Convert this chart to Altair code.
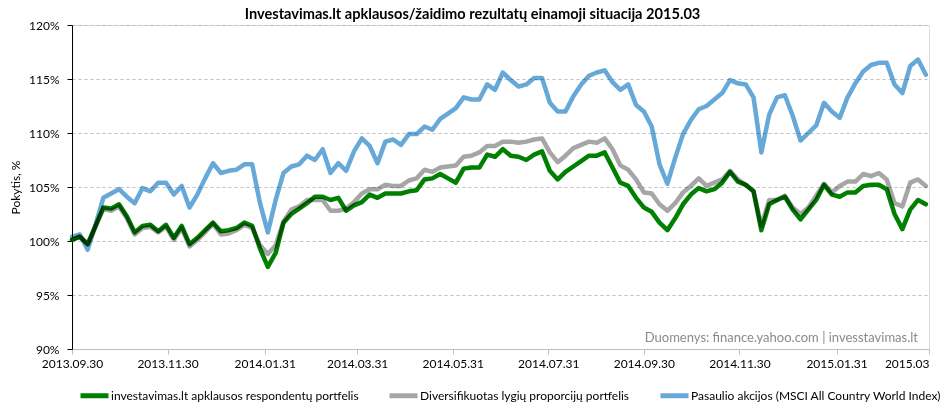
import altair as alt
import pandas as pd

# sampling dates (every 5 calendar days from the start of the game)
dates = [d.strftime("%Y-%m-%d") for d in pd.date_range("2013-09-30", periods=110, freq="5D")]

names = [
    "investavimas.lt apklausos respondentų portfelis",
    "Diversifikuotas lygių proporcijų portfelis",
    "Pasaulio akcijos (MSCI All Country World Index)",
]
colors = ["#008000", "#A6A6A6", "#66A9D9"]

green = [
    100.1, 100.4, 99.7, 101.4, 103.1, 103.0, 103.4, 102.3, 100.8, 101.4,
    101.5, 100.9, 101.5, 100.3, 101.4, 99.7, 100.3, 101.0, 101.7, 100.9,
    101.0, 101.2, 101.7, 101.4, 99.3, 97.6, 98.9, 101.7, 102.5, 103.0,
    103.5, 104.1, 104.1, 103.8, 104.0, 102.8, 103.3, 103.6, 104.3, 104.0,
    104.4, 104.4, 104.4, 104.6, 104.7, 105.7, 105.8, 106.2, 105.8, 105.4,
    106.7, 106.8, 106.8, 108.0, 107.8, 108.5, 107.9, 107.8, 107.5, 108.0,
    108.3, 106.5, 105.7, 106.4, 106.9, 107.4, 107.9, 107.9, 108.2, 106.8,
    105.4, 105.1, 104.0, 103.1, 102.7, 101.7, 101.0, 102.1, 103.4, 104.3,
    104.9, 104.6, 104.8, 105.4, 106.4, 105.5, 105.2, 104.6, 101.0, 103.4,
    103.8, 104.1, 102.9, 102.0, 102.9, 103.8, 105.2, 104.3, 104.1, 104.5,
    104.5, 105.1, 105.2, 105.2, 104.8, 102.5, 101.1, 102.9, 103.8, 103.4,
]
gray = [
    100.1, 100.4, 99.7, 101.3, 103.0, 102.8, 103.2, 102.1, 100.6, 101.2,
    101.3, 100.8, 101.3, 100.1, 101.2, 99.5, 100.1, 100.8, 101.6, 100.6,
    100.7, 101.0, 101.5, 101.2, 99.6, 98.8, 99.6, 101.8, 102.9, 103.2,
    103.8, 103.8, 103.8, 102.8, 102.8, 103.0, 103.6, 104.4, 104.8, 104.8,
    105.2, 105.1, 105.1, 105.6, 105.8, 106.6, 106.4, 106.8, 106.9, 107.0,
    107.8, 107.9, 108.2, 108.8, 108.8, 109.2, 109.2, 109.1, 109.2, 109.4,
    109.5, 108.2, 107.3, 107.9, 108.6, 108.9, 109.2, 109.1, 109.5, 108.5,
    107.0, 106.6, 105.7, 104.5, 104.4, 103.4, 102.8, 103.5, 104.5, 105.1,
    105.8, 105.1, 105.4, 105.7, 106.5, 105.7, 105.2, 104.6, 101.4, 103.8,
    103.8, 104.2, 103.1, 102.5, 103.1, 104.2, 105.3, 104.5, 105.1, 105.5,
    105.5, 106.2, 106.0, 106.3, 105.7, 103.5, 103.2, 105.4, 105.7, 105.1,
]
blue = [
    100.4, 100.6, 99.2, 101.5, 104.0, 104.4, 104.8, 104.1, 103.5, 104.9,
    104.6, 105.4, 105.4, 104.3, 105.1, 103.1, 104.3, 105.8, 107.2, 106.3,
    106.5, 106.6, 107.1, 107.1, 103.5, 100.8, 103.8, 106.3, 106.9, 107.1,
    107.9, 107.5, 108.5, 106.3, 107.2, 106.5, 108.3, 109.5, 108.8, 107.2,
    109.2, 109.4, 108.9, 109.9, 109.9, 110.6, 110.3, 111.3, 111.8, 112.3,
    113.3, 113.1, 113.1, 114.5, 114.0, 115.6, 114.9, 114.3, 114.5, 115.1,
    115.1, 112.8, 112.0, 112.0, 113.4, 114.5, 115.3, 115.6, 115.8, 114.7,
    114.0, 114.5, 112.6, 112.0, 110.6, 107.1, 105.3, 107.7, 109.9, 111.2,
    112.2, 112.5, 113.1, 113.7, 114.9, 114.6, 114.5, 113.3, 108.2, 111.7,
    113.3, 113.5, 111.6, 109.3, 110.0, 110.7, 112.8, 112.0, 111.4, 113.3,
    114.6, 115.7, 116.3, 116.5, 116.5, 114.5, 113.7, 116.2, 116.8, 115.4,
]

tick_dates = [
    (2013, 9, 30), (2013, 11, 30), (2014, 1, 31), (2014, 3, 31), (2014, 5, 31),
    (2014, 7, 31), (2014, 9, 30), (2014, 11, 30), (2015, 1, 31), (2015, 3, 31),
]
y_ticks = [90, 95, 100, 105, 110, 115, 120]

title_text = "Investavimas.lt apklausos/žaidimo rezultatų einamoji situacija 2015.03"
note_text = "Duomenys: finance.yahoo.com | invesstavimas.lt"

rows = []
for name, vals in zip(names, [green, gray, blue]):
    for d, v in zip(dates, vals):
        rows.append({"date": d, "value": v, "series": name})
df = pd.DataFrame(rows)

FONT = "Lato"
LAST = "utcFormat(datum.value, '%Y.%m') == '2015.03'"

x_enc = alt.X(
    "date:T",
    scale=alt.Scale(
        type="utc",
        domain=[alt.DateTime(year=2013, month=9, date=30, utc=True),
                alt.DateTime(year=2015, month=3, date=31, utc=True)],
    ),
    axis=alt.Axis(
        title=None,
        values=[alt.DateTime(year=a, month=b, date=c, utc=True) for a, b, c in tick_dates],
        labelExpr=LAST + " ? '2015.03' : utcFormat(datum.value, '%Y.%m.%d')",
        labelAlign={"condition": {"test": LAST, "value": "right"}, "value": "center"},
        grid=False,
        domainColor="#BFBFBF",
        tickColor="#BFBFBF",
        tickSize=5,
        labelPadding=4,
        labelFontSize=12,
        labelFont=FONT,
        labelColor="#000000",
        labelOverlap=False,
        labelFlush=False,
        labelBound=False,
    ),
)
y_enc = alt.Y(
    "value:Q",
    scale=alt.Scale(domain=[90, 120], nice=False, zero=False),
    axis=alt.Axis(
        title="Pokytis, %",
        values=y_ticks,
        labelExpr="datum.value + '%'",
        grid=True,
        gridDash=[3, 3],
        gridColor="#BFBFBF",
        domainColor="#000000",
        tickColor="#000000",
        tickSize=5,
        labelPadding=8,
        labelFontSize=12,
        labelFont=FONT,
        labelColor="#000000",
        titleFont=FONT,
        titleFontSize=12,
        titleFontWeight="normal",
        titleColor="#000000",
        titlePadding=6,
    ),
)
color_enc = alt.Color(
    "series:N",
    scale=alt.Scale(domain=names, range=colors),
    legend=alt.Legend(
        title=None,
        orient="none",
        direction="horizontal",
        legendX=6,
        legendY=354,
        symbolType="stroke",
        symbolSize=784,
        symbolStrokeWidth=5,
        labelFont=FONT,
        labelFontSize=12,
        labelColor="#000000",
        labelOffset=0,
        labelLimit=0,
        columnPadding=20,
    ),
)

base = alt.Chart(df).encode(x=x_enc, y=y_enc, color=color_enc)

layers = []
for i, name in enumerate(names):
    kw = dict(strokeWidth=4.5, strokeJoin="round", strokeCap="round")
    if i > 0:
        kw["blend"] = "multiply"
    layers.append(base.transform_filter(alt.datum.series == name).mark_line(**kw))

note = alt.Chart(pd.DataFrame({"t": [note_text]})).mark_text(
    align="right", baseline="alphabetic", font=FONT, fontSize=13, color="#8A8A8A"
).encode(x=alt.value(846), y=alt.value(317), text="t:N")

chart = alt.layer(*layers, note).properties(
    width=857,
    height=324,
    title=alt.TitleParams(title_text, font=FONT, fontSize=14.6, fontWeight="bold",
                          color="#000000", anchor="middle", dx=-28, dy=7, offset=4),
    autosize=alt.AutoSizeParams(type="none"),
    padding={"left": 72, "top": 25, "right": 13, "bottom": 59},
).configure_view(stroke="#000000", strokeWidth=1).configure(background="#ffffff")

chart.save("out.html", embed_options={"renderer": "svg", "actions": False})
